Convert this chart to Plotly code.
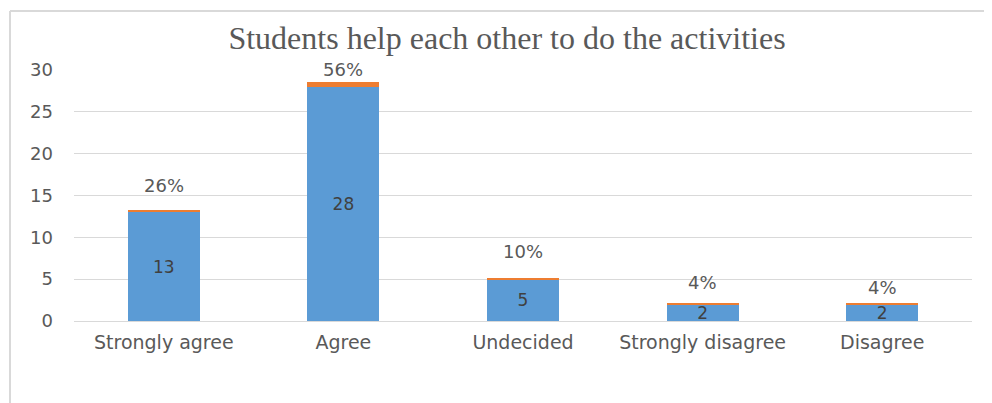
import plotly.graph_objects as go

categories = ["Strongly agree", "Agree", "Undecided", "Strongly disagree", "Disagree"]
counts = [13, 28, 5, 2, 2]
shares = [0.26, 0.56, 0.10, 0.04, 0.04]
share_labels = ["26%", "56%", "10%", "4%", "4%"]
y_ticks = [0, 5, 10, 15, 20, 25, 30]

# label offsets above the stacked bar (pixels), a style setting
label_shift = [25, 13, 27, 21, 16]

W, H = 992, 403
OFF = 8  # page body margin
ml, mr, mt, mb = 74 - OFF, 20 + OFF, 70 - OFF, 82 + OFF
pw = W - ml - mr
ph = H - mt - mb

font_family = "DejaVu Sans"
gray = "#595959"

fig = go.Figure()
fig.add_trace(go.Bar(
    x=categories, y=counts, marker_color="#5B9BD5", marker_line_width=0,
    text=[str(c) for c in counts], textposition="inside", insidetextanchor="middle",
    constraintext="none", textangle=0,
    textfont=dict(family=font_family, size=17, color="#404040"),
    hoverinfo="x+y", showlegend=False,
))
fig.add_trace(go.Bar(
    x=categories, y=shares, marker_color="#ED7D31", marker_line_width=0,
    hoverinfo="x+y", showlegend=False,
))

for c, n, s, t, sh in zip(categories, counts, shares, share_labels, label_shift):
    fig.add_annotation(x=c, y=n + s, text=t, showarrow=False, yanchor="middle",
                       yshift=sh, font=dict(family=font_family, size=18, color=gray))

# outer chart border (left and top)
x_left = (10 - OFF - ml) / pw
y_top = 1 + (mt - (11 - OFF)) / ph
y_bot = -(mb) / ph
fig.add_shape(type="line", xref="paper", yref="paper", x0=x_left, x1=x_left,
              y0=y_bot, y1=y_top, line=dict(color="#D9D9D9", width=2))
fig.add_shape(type="line", xref="paper", yref="paper", x0=x_left, x1=(W - ml) / pw,
              y0=y_top, y1=y_top, line=dict(color="#D9D9D9", width=2))

fig.update_layout(
    width=W, height=H,
    margin=dict(l=ml, r=mr, t=mt, b=mb),
    barmode="stack", bargap=0.6,
    plot_bgcolor="white", paper_bgcolor="white",
    title=dict(text="Students help each other to do the activities",
               x=(507 - OFF) / W, xanchor="center", y=1 - (38 - OFF) / H, yanchor="middle",
               font=dict(family="Liberation Serif", size=32, color=gray)),
    font=dict(family=font_family, color=gray),
)
fig.update_yaxes(range=[0, 30], tickvals=y_ticks, showgrid=True, gridcolor="#D9D9D9",
                 gridwidth=1, zeroline=True, zerolinecolor="#D9D9D9", zerolinewidth=1,
                 showline=False, ticks="", ticklabelstandoff=20,
                 tickfont=dict(family=font_family, size=18, color=gray))
fig.update_xaxes(showgrid=False, showline=False, ticks="", ticklabelstandoff=8,
                 tickfont=dict(family=font_family, size=19, color=gray))

fig.write_html("out.html")
